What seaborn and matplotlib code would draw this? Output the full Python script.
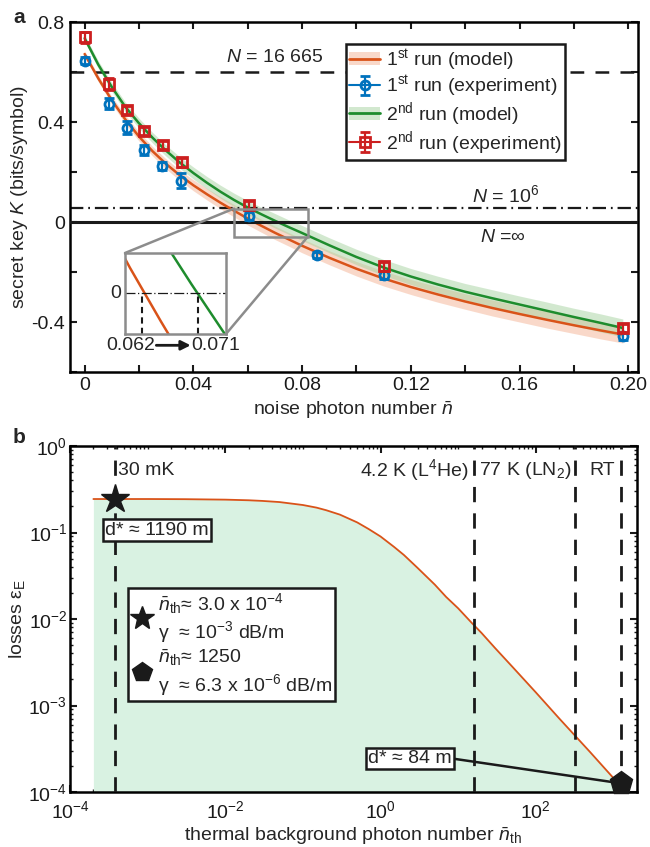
import numpy as np
import seaborn as sns
import matplotlib
matplotlib.use("Agg")
import matplotlib.pyplot as plt
from matplotlib.lines import Line2D
from matplotlib.patches import Patch, Rectangle, ConnectionPatch
from matplotlib.ticker import MultipleLocator, LogLocator, NullFormatter

# ---------------- panel a : secret key vs noise ----------------
n_model = [0, 0.005, 0.01, 0.015, 0.02, 0.025, 0.03, 0.035, 0.04, 0.045, 0.05,
           0.055, 0.06, 0.065, 0.07, 0.075, 0.08, 0.09, 0.10, 0.11, 0.12, 0.13,
           0.14, 0.15, 0.16, 0.17, 0.18, 0.19, 0.198]
k_model1 = [0.672, 0.575, 0.487, 0.41, 0.342, 0.283, 0.232, 0.187, 0.147, 0.111,
            0.077, 0.045, 0.014, -0.015, -0.043, -0.069, -0.095, -0.143, -0.187,
            -0.226, -0.26, -0.29, -0.318, -0.344, -0.368, -0.391, -0.413, -0.434, -0.45]
k_model2 = [0.735, 0.63, 0.54, 0.46, 0.395, 0.337, 0.285, 0.238, 0.196, 0.157,
            0.121, 0.088, 0.058, 0.031, 0.005, -0.02, -0.044, -0.093, -0.14,
            -0.182, -0.218, -0.25, -0.279, -0.305, -0.33, -0.355, -0.38, -0.404, -0.424]
band1 = [0.012, 0.013, 0.015, 0.017, 0.018, 0.019, 0.02, 0.021, 0.022, 0.023,
         0.024, 0.025, 0.026, 0.026, 0.027, 0.027, 0.028, 0.028, 0.029, 0.03,
         0.03, 0.031, 0.031, 0.032, 0.032, 0.033, 0.033, 0.034, 0.034]
band2 = [0.013, 0.015, 0.017, 0.019, 0.02, 0.021, 0.022, 0.023, 0.024, 0.025,
         0.026, 0.027, 0.028, 0.028, 0.029, 0.029, 0.03, 0.03, 0.031, 0.032,
         0.032, 0.033, 0.033, 0.034, 0.034, 0.035, 0.035, 0.036, 0.036]

n_exp1 = [0.0, 0.009, 0.0155, 0.022, 0.0285, 0.0355, 0.0605, 0.0855, 0.110, 0.198]
k_exp1 = [0.646, 0.474, 0.378, 0.288, 0.224, 0.165, 0.025, -0.130, -0.210, -0.457]
err_exp1 = [0.015, 0.023, 0.026, 0.02, 0.016, 0.03, 0.016, 0.012, 0.016, 0.014]
n_exp2 = [0.0, 0.009, 0.0155, 0.022, 0.029, 0.0358, 0.0605, 0.110, 0.198]
k_exp2 = [0.740, 0.553, 0.450, 0.364, 0.307, 0.240, 0.067, -0.177, -0.424]
err_exp2 = [0.022, 0.025, 0.016, 0.016, 0.016, 0.018, 0.016, 0.018, 0.016]

k_thresh = [0.6, 0.055, 0.0]          # N = 16665, N = 1e6, N = inf
n_cross = [0.062, 0.071]              # zero crossings shown in inset

xticks_a = [0, 0.04, 0.08, 0.12, 0.16, 0.20]
xticklabels_a = ["0", "0.04", "0.08", "0.12", "0.16", "0.20"]
yticks_a = [-0.4, 0, 0.4, 0.8]
yticklabels_a = ["-0.4", "0", "0.4", "0.8"]

# ---------------- panel b : losses vs thermal photons ----------------
n_th = [2e-4, 1e-3, 3e-3, 1e-2, 2e-2, 3e-2, 5e-2, 0.1, 0.15, 0.2, 0.3, 0.5,
        0.7, 1, 1.5, 2, 3, 5, 7, 10, 15, 20, 30, 50, 100, 200, 500, 1000, 1250]
eps_e = [0.244, 0.244, 0.243, 0.240, 0.236, 0.232, 0.225, 0.208, 0.194, 0.181,
         0.161, 0.131, 0.11, 0.09, 0.068, 0.055, 0.039, 0.025, 0.018, 0.0133,
         0.009, 0.0069, 0.0046, 0.0028, 0.00142, 0.00071, 0.00029, 0.000145, 0.000126]
temp_n = [3.8e-4, 16, 320, 1250]
star_pt = (3.8e-4, 0.244)
pent_pt = (1250, 1.26e-4)

# ---------------- style ----------------
sns.set_theme(style="ticks")
plt.rcParams["font.family"] = ["Liberation Sans", "DejaVu Sans"]
plt.rcParams.update({
    "mathtext.fontset": "custom",
    "mathtext.rm": "Liberation Sans",
    "mathtext.it": "Liberation Sans:italic",
    "mathtext.bf": "Liberation Sans:bold",
    "font.size": 14,
    "axes.linewidth": 1.8,
    "axes.edgecolor": "black",
})

c_orange = "#D95319"
c_green = "#1E8C2D"
c_blue = "#0072BD"
c_red = "#CC1F1F"
c_band1 = "#F4B394"
c_band2 = "#A6D3A0"
c_gray = "#8C8C8C"
c_fill = "#D9F2E2"
fs = 14

fig = plt.figure(figsize=(6.5, 8.47), dpi=100)
ax = fig.add_axes([0.1072, 0.5608, 0.874, 0.4132])
ax2 = fig.add_axes([0.1077, 0.0649, 0.872, 0.4085])

# ---- panel a ----
nm = np.array(n_model)
k1 = np.array(k_model1)
k2 = np.array(k_model2)
ax.fill_between(nm, k1 - np.array(band1), k1 + np.array(band1), color=c_band1,
                alpha=0.5, lw=0, zorder=1)
ax.fill_between(nm, k2 - np.array(band2), k2 + np.array(band2), color=c_band2,
                alpha=0.5, lw=0, zorder=1)
sns.lineplot(x=n_model, y=k_model1, color=c_orange, lw=1.8, ax=ax, zorder=3)
sns.lineplot(x=n_model, y=k_model2, color=c_green, lw=1.8, ax=ax, zorder=3)

ax.axhline(k_thresh[0], color="k", lw=1.8, ls=(0, (5.5, 4.5)), zorder=2)
ax.axhline(k_thresh[1], color="k", lw=1.6, ls=(0, (6, 2.2, 0.8, 2.2)), zorder=2)
ax.axhline(k_thresh[2], color="k", lw=2.2, zorder=4)

ekw = dict(mfc="none", mew=2, capsize=3.5, capthick=1.6, elinewidth=1.6)
ax.errorbar(n_exp1, k_exp1, yerr=err_exp1, fmt="o", ms=6.5, color=c_blue,
            zorder=5, **ekw)
ax.errorbar(n_exp2, k_exp2, yerr=err_exp2, fmt="s", ms=6.5, color=c_red,
            zorder=6, **ekw)

# legend handles
leg1 = ax.errorbar([np.nan], [np.nan], yerr=[np.nan], fmt="-o", ms=6.5, lw=1.5,
                   color=c_blue, **ekw)
leg2 = ax.errorbar([np.nan], [np.nan], yerr=[np.nan], fmt="-s", ms=6.5, lw=1.5,
                   color=c_red, **ekw)
h_m1 = (Patch(facecolor=c_band1, alpha=0.5, lw=0), Line2D([], [], color=c_orange, lw=2))
h_m2 = (Patch(facecolor=c_band2, alpha=0.5, lw=0), Line2D([], [], color=c_green, lw=2))
lg = ax.legend([h_m1, leg1, h_m2, leg2],
               [r"1$^{\mathrm{st}}$ run (model)", r"1$^{\mathrm{st}}$ run (experiment)",
                r"2$^{\mathrm{nd}}$ run (model)", r"2$^{\mathrm{nd}}$ run (experiment)"],
               loc="upper right", bbox_to_anchor=(0.872, 0.937), fontsize=fs,
               frameon=True, fancybox=False, edgecolor="k", framealpha=1,
               handlelength=1.6, handletextpad=0.3, labelspacing=0.05,
               borderpad=0.15, borderaxespad=0)
lg.get_frame().set_linewidth(1.8)
lg.set_zorder(10)

ax.text(0.0697, 0.66, r"$N$ = 16 665", ha="center", va="center", fontsize=fs)
ax.text(0.155, 0.107, r"$N$ = 10$^6$", ha="center", va="center", fontsize=fs)
ax.text(0.154, -0.06, r"$N$ =∞", ha="center", va="center", fontsize=fs)

ax.set_xlim(-0.0055, 0.2035)
ax.set_ylim(-0.6, 0.8)
ax.set_xticks(xticks_a, xticklabels_a)
ax.set_yticks(yticks_a, yticklabels_a)
ax.xaxis.set_minor_locator(MultipleLocator(0.02))
ax.yaxis.set_minor_locator(MultipleLocator(0.2))
ax.tick_params(which="both", direction="in", top=True, right=True, length=5,
               width=1.5, labelsize=fs, color="k", labelcolor="k")
ax.set_xlabel(r"noise photon number $\bar{n}$", fontsize=fs, labelpad=4)
ax.set_ylabel(r"secret key $K$ (bits/symbol)", fontsize=fs, labelpad=1)

# zoom rectangle + inset
zoom_x0, zoom_x1, zoom_y0, zoom_y1 = 0.055, 0.082, -0.06, 0.054
ax.add_patch(Rectangle((zoom_x0, zoom_y0), zoom_x1 - zoom_x0, zoom_y1 - zoom_y0,
                       fill=False, ec=c_gray, lw=1.8, zorder=7))
axin = fig.add_axes([0.1923, 0.6057, 0.1554, 0.0956])
axin.set_facecolor("white")
sns.lineplot(x=n_model, y=k_model1, color=c_orange, lw=1.8, ax=axin)
sns.lineplot(x=n_model, y=k_model2, color=c_green, lw=1.8, ax=axin)
axin.axhline(0, color="k", lw=0.9, ls=(0, (8, 2, 1, 2)))
axin.vlines(n_cross, -0.022, 0, colors="k", lw=1.5, linestyles=(0, (3, 2)))
axin.set_xlim(0.0592, 0.0756)
axin.set_ylim(-0.022, 0.022)
axin.set_xticks([])
axin.set_yticks([])
axin.set_xlabel("")
axin.set_ylabel("")
for s in axin.spines.values():
    s.set_color(c_gray)
    s.set_linewidth(1.8)
axin.text(-0.035, 0, "0", transform=axin.get_yaxis_transform(), ha="right",
          va="center", fontsize=fs)
axin.text(0.06, -0.14, "0.062", transform=axin.transAxes, ha="center",
          va="center", fontsize=fs, clip_on=False)
axin.text(0.9, -0.14, "0.071", transform=axin.transAxes, ha="center",
          va="center", fontsize=fs, clip_on=False)
axin.annotate("", xy=(0.65, -0.14), xytext=(0.31, -0.14), xycoords="axes fraction",
              arrowprops=dict(arrowstyle="-|>", lw=2, color="k",
                              mutation_scale=14, shrinkA=0, shrinkB=0),
              annotation_clip=False)
for xa, xb in [((zoom_x0, zoom_y1), (0, 1)), ((zoom_x1, zoom_y0), (1, 0))]:
    fig.add_artist(ConnectionPatch(xyA=xa, coordsA=ax.transData, xyB=xb,
                                   coordsB=axin.transAxes, color=c_gray, lw=1.8))

# ---- panel b ----
ax2.set_xscale("log")
ax2.set_yscale("log")
ax2.fill_between(n_th, eps_e, 1e-4, color=c_fill, lw=0, zorder=1)
sns.lineplot(x=n_th, y=eps_e, color=c_orange, lw=1.3, ax=ax2, zorder=2)
for xv in temp_n:
    ax2.axvline(xv, color="k", lw=2.0, ls=(0, (5.5, 4)), zorder=3)

ytxt = 0.93
def temp_label(txt, xv, dx, ha):
    ax2.annotate(txt, xy=(xv, ytxt), xycoords=("data", "axes fraction"),
                 xytext=(dx, 0), textcoords="offset points", ha=ha, va="center",
                 fontsize=fs)

temp_label("30 mK", temp_n[0], 2.5, "left")
temp_label(r"4.2 K (L$^4$He)", temp_n[1], -4, "right")
temp_label(r"77 K (LN$_2$)", temp_n[1], 3.5, "left")
temp_label("RT", temp_n[3], -4, "right")

ax2.plot([star_pt[0]], [star_pt[1]], marker="*", ms=21, color="k", ls="none", zorder=6)
ax2.plot([pent_pt[0]], [pent_pt[1]], marker="p", ms=17, color="k", ls="none",
         zorder=6, clip_on=False)

bb = dict(boxstyle="square,pad=0.12", fc="white", ec="k", lw=1.8)
ax2.text(0.153, 0.757, "d* ≈ 1190 m", transform=ax2.transAxes, ha="center",
         va="center", fontsize=fs, bbox=bb, zorder=7)
ax2.annotate("d* ≈ 84 m", xy=pent_pt, xycoords="data", xytext=(0.6, 0.097),
             textcoords="axes fraction", ha="center", va="center", fontsize=fs,
             bbox=bb, zorder=7,
             arrowprops=dict(arrowstyle="-", lw=1.8, color="k", relpos=(1, 0.5),
                             shrinkA=0, shrinkB=0))

h_star = Line2D([], [], marker="*", ms=18, color="k", ls="none")
h_pent = Line2D([], [], marker="p", ms=15, color="k", ls="none")
lab_star = r"$\bar{n}_{\mathrm{th}}$≈ 3.0 x 10$^{-4}$" + "\n" + r"γ  ≈ 10$^{-3}$ dB/m"
lab_pent = r"$\bar{n}_{\mathrm{th}}$≈ 1250" + "\n" + r"γ  ≈ 6.3 x 10$^{-6}$ dB/m"
lg2 = ax2.legend([h_star, h_pent], [lab_star, lab_pent], loc="upper left",
                 bbox_to_anchor=(0.102, 0.59), fontsize=fs, frameon=True,
                 fancybox=False, edgecolor="k", framealpha=1, handlelength=1.2,
                 handletextpad=0.2, labelspacing=0.1, borderpad=0.15,
                 borderaxespad=0)
lg2.get_frame().set_linewidth(1.8)

ax2.set_xlim(1e-4, 2000)
ax2.set_ylim(1e-4, 1)
ax2.set_xticks([1e-4, 1e-2, 1, 1e2])
ax2.set_yticks([1e-4, 1e-3, 1e-2, 1e-1, 1])
ax2.xaxis.set_minor_locator(LogLocator(base=10, subs=np.arange(1, 10), numticks=40))
ax2.yaxis.set_minor_locator(LogLocator(base=10, subs=np.arange(2, 10), numticks=40))
ax2.xaxis.set_minor_formatter(NullFormatter())
ax2.yaxis.set_minor_formatter(NullFormatter())
ax2.tick_params(which="major", direction="in", top=True, right=True, length=5,
                width=1.5, labelsize=fs, color="k", labelcolor="k")
ax2.tick_params(axis="x", which="major", pad=6)
ax2.tick_params(axis="y", which="major", pad=2)
ax2.tick_params(which="minor", direction="in", top=True, right=True, length=2.5,
                width=1.0, color="k")
ax2.set_xlabel(r"thermal background photon number $\bar{n}_{\mathrm{th}}$",
               fontsize=fs, labelpad=2)
ax2.set_ylabel(r"losses ε$_{\mathrm{E}}$", fontsize=fs, labelpad=1)

fig.text(0.029, 0.979, "a", fontsize=15, fontweight="bold", ha="center", va="center")
fig.text(0.029, 0.484, "b", fontsize=15, fontweight="bold", ha="center", va="center")

fig.savefig("out.png", dpi=100)
